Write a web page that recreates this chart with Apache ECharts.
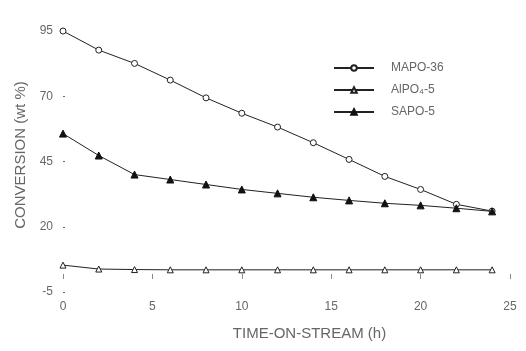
<!DOCTYPE html>
<html>
<head>
<meta charset="utf-8">
<script src="https://cdn.jsdelivr.net/npm/echarts@6/dist/echarts.min.js"></script>
<style>html,body{margin:0;padding:0;background:#fff;}#c{width:526px;height:351px;}</style>
</head>
<body>
<div id="c"></div>
<script>
const hours = [0, 2, 4, 6, 8, 10, 12, 14, 16, 18, 20, 22, 24];
const mapo36 = [95, 87.7, 82.6, 76.2, 69.4, 63.5, 58.2, 52.2, 45.8, 39.3, 34.3, 28.6, 26.0];
const alpo5 = [5.3, 3.8, 3.6, 3.5, 3.5, 3.5, 3.5, 3.5, 3.5, 3.5, 3.5, 3.5, 3.5];
const sapo5 = [55.7, 47.3, 40.0, 38.1, 36.2, 34.3, 32.8, 31.3, 30.1, 29.0, 28.2, 27.1, 25.9];
const yTicks = [-5, 20, 45, 70, 95];
const xTicks = [0, 5, 10, 15, 20, 25];
const seriesNames = ['MAPO-36', 'AlPO\u2084-5', 'SAPO-5'];

const pair = arr => hours.map((h, i) => [h, arr[i]]);
const txt = '#666';
const font = 'Liberation Sans';
const chart = echarts.init(document.getElementById('c'), null, {renderer: 'canvas'});
const lineStyle = {color: '#222', width: 1};
chart.setOption({
  animation: false,
  backgroundColor: '#fff',
  grid: {left: 63, right: 16, top: 18, bottom: 59},
  legend: {
    orient: 'vertical', left: 328, top: 57, itemGap: 10, itemWidth: 40, itemHeight: 7,
    textStyle: {color: txt, fontFamily: font, fontSize: 12, padding: [0, 0, 0, 12]},
    data: seriesNames
  },
  xAxis: {
    type: 'value', min: 0, max: 25, interval: 5,
    name: 'TIME-ON-STREAM (h)', nameLocation: 'middle', nameGap: 34,
    nameTextStyle: {color: txt, fontFamily: font, fontSize: 15, padding: [0, 0, 0, 46]},
    axisLine: {show: false},
    axisTick: {show: true, inside: true, length: 5, lineStyle: {color: '#888'}, customValues: xTicks},
    axisLabel: {color: txt, fontFamily: font, fontSize: 12, margin: 9, customValues: xTicks},
    splitLine: {show: false}
  },
  yAxis: {
    type: 'value', min: -5, max: 100,
    name: 'CONVERSION (wt %)', nameLocation: 'middle', nameGap: 34, nameRotate: 90,
    nameTextStyle: {color: txt, fontFamily: font, fontSize: 15},
    axisLine: {show: false},
    axisTick: {show: true, inside: true, length: 2, lineStyle: {color: '#666'}, customValues: yTicks},
    axisLabel: {color: txt, fontFamily: font, fontSize: 12, margin: 10, customValues: yTicks},
    splitLine: {show: false}
  },
  series: [
    {name: seriesNames[0], type: 'line', data: pair(mapo36), symbol: 'circle', symbolSize: 6,
     itemStyle: {color: '#fff', borderColor: '#222', borderWidth: 1}, lineStyle: lineStyle},
    {name: seriesNames[1], type: 'line', data: pair(alpo5), symbol: 'triangle', symbolSize: 6,
     itemStyle: {color: '#fff', borderColor: '#222', borderWidth: 1}, lineStyle: lineStyle},
    {name: seriesNames[2], type: 'line', data: pair(sapo5), symbol: 'triangle', symbolSize: 7,
     itemStyle: {color: '#111', borderColor: '#111', borderWidth: 1}, lineStyle: lineStyle}
  ]
});
</script>
</body>
</html>
